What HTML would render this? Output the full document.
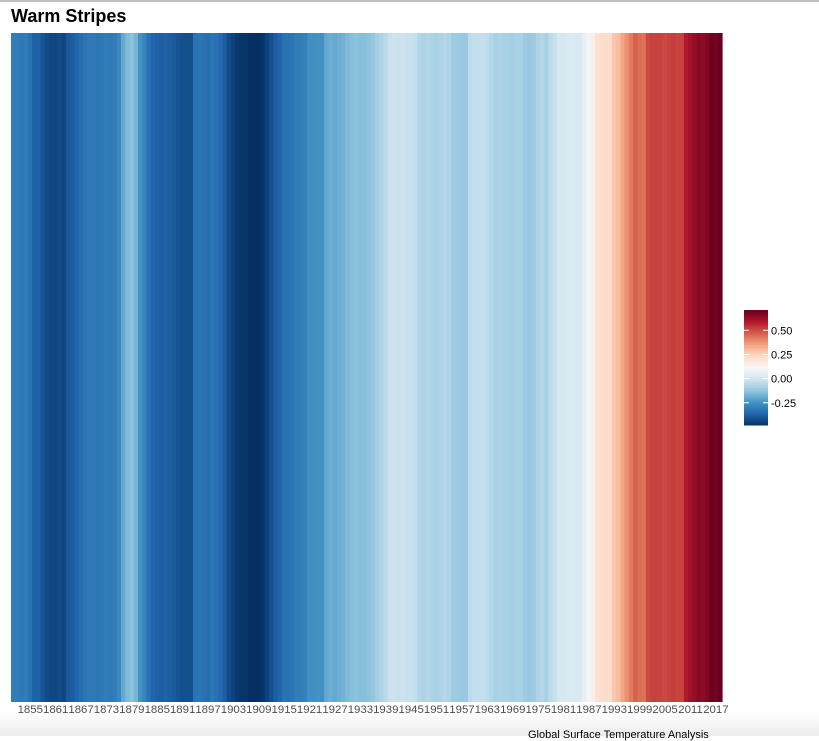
<!DOCTYPE html>
<html><head><meta charset="utf-8"><style>
body{margin:0;width:819px;height:736px;overflow:hidden;background:#fff;font-family:"Liberation Sans",sans-serif;position:relative}
#topline{position:absolute;left:0;top:0;width:819px;height:2px;background:#bdbdbd}
#bottom{position:absolute;left:0;top:712px;width:819px;height:24px;background:linear-gradient(#fff,#ececec)}
#title{position:absolute;left:11px;top:6px;font-size:18px;font-weight:bold;color:#000}
#cap{position:absolute;left:528px;top:729px;font-size:11px;color:#000;white-space:nowrap}
svg{position:absolute;left:0;top:0}
</style></head><body>
<div id="topline"></div>
<div id="bottom"></div>
<div id="title">Warm Stripes</div>
<div id="cap">Global Surface Temperature Analysis</div>
<svg id="chart" width="819" height="736"></svg>
<script>
const startYear = 1850;
const anomalies = [
-0.30,-0.30,-0.31,-0.30,-0.33,-0.37,-0.37,-0.40,-0.42,-0.43,-0.43,-0.42,-0.43,-0.39,-0.38,-0.36,-0.34,-0.32,-0.31,-0.31,-0.32,-0.31,-0.30,-0.31,-0.30,-0.27,-0.19,-0.15,-0.13,-0.16,-0.24,-0.28,-0.33,-0.36,-0.37,-0.38,-0.37,-0.38,-0.39,-0.40,-0.41,-0.41,
-0.41,-0.33,-0.32,-0.33,-0.34,-0.32,-0.33,-0.35,-0.38,-0.42,-0.44,-0.46,-0.47,-0.47,-0.48,-0.48,-0.48,-0.47,-0.44,-0.41,-0.38,-0.36,-0.33,-0.33,-0.32,-0.30,-0.30,-0.29,-0.25,-0.25,-0.24,-0.25,-0.19,-0.18,-0.19,-0.18,-0.17,-0.15,-0.14,-0.13,-0.14,-0.14,
-0.13,-0.12,-0.09,-0.07,-0.05,-0.02,-0.01,-0.02,-0.01,-0.02,-0.02,-0.03,-0.06,-0.07,-0.06,-0.07,-0.08,-0.07,-0.06,-0.07,-0.10,-0.10,-0.11,-0.11,-0.04,-0.03,-0.03,-0.03,-0.04,-0.06,-0.08,-0.07,-0.08,-0.08,-0.09,-0.08,-0.08,-0.10,-0.11,-0.10,-0.07,-0.06,
-0.08,-0.04,-0.02,0.02,0.01,0.02,0.03,0.02,0.02,0.07,0.10,0.15,0.21,0.22,0.23,0.22,0.28,0.30,0.35,0.39,0.43,0.47,0.45,0.44,0.51,0.52,0.52,0.52,0.51,0.52,0.53,0.52,0.52,0.59,0.62,0.64,0.66,0.65,0.67,0.70,0.69,0.71];
const legendTicks = [0.50,0.25,0.00,-0.25];
const legendLabels = ["0.50","0.25","0.00","-0.25"];
const palette = ["#053061","#2166ac","#4393c3","#92c5de","#d1e5f0","#f7f7f7","#fddbc7","#f4a582","#d6604d","#b2182b","#67001f"];

const NS="http://www.w3.org/2000/svg";
const svg=document.getElementById('chart');
const vMin=Math.min(...anomalies), vMax=Math.max(...anomalies);
const px0=11, px1=722, py0=33, py1=702;
const n=anomalies.length, bw=(px1-px0)/n;
const xScale=i=>px0+i*bw;
function hex(h){return [1,3,5].map(k=>parseInt(h.substr(k,2),16));}
function colorOf(v){
  let t=(v-vMin)/(vMax-vMin); t=Math.max(0,Math.min(1,t));
  const p=t*(palette.length-1), i=Math.min(palette.length-2,Math.floor(p)), f=p-i;
  const a=hex(palette[i]), b=hex(palette[i+1]);
  return 'rgb('+a.map((c,k)=>Math.round(c+(b[k]-c)*f)).join(',')+')';
}
function mk(tag,attrs){const e=document.createElementNS(NS,tag);for(const k in attrs)e.setAttribute(k,attrs[k]);svg.appendChild(e);return e;}
anomalies.forEach((v,i)=>{
  const r=mk('rect',{x:xScale(i),y:py0,width:bw+0.6,height:py1-py0,fill:colorOf(v)});
  
  
});
const labelNudge=-4;
for(let i=5;i<n;i+=6){
  const t=mk('text',{x:xScale(i)+bw/2+labelNudge,y:713,'text-anchor':'middle','font-size':'11.4','fill':'#4d4d4d','font-family':'Liberation Sans, sans-serif'});
  t.textContent=String(startYear+i);
  
  
}
// legend
const ly0=310, ly1=425, lx=744, lw=24;
const lScale=v=>ly1-(v-vMin)/(vMax-vMin)*(ly1-ly0);
const steps=60;
for(let s=0;s<steps;s++){
  const v=vMin+(s+0.5)/steps*(vMax-vMin);
  const h=(ly1-ly0)/steps;
  const r=mk('rect',{x:lx,y:ly1-(s+1)*h,width:lw,height:h+0.5,fill:colorOf(v)});
  
  
}
legendTicks.forEach((v,i)=>{
  const y=lScale(v);
  mk('line',{x1:lx,x2:lx+5,y1:y,y2:y,stroke:'#fff','stroke-width':1});
  mk('line',{x1:lx+lw-5,x2:lx+lw,y1:y,y2:y,stroke:'#fff','stroke-width':1});
  const t=mk('text',{x:lx+lw+3,y:y+4,'font-size':'11','fill':'#000','font-family':'Liberation Sans, sans-serif'});
  t.textContent=legendLabels[i];
  
  
});
</script>
</body></html>
